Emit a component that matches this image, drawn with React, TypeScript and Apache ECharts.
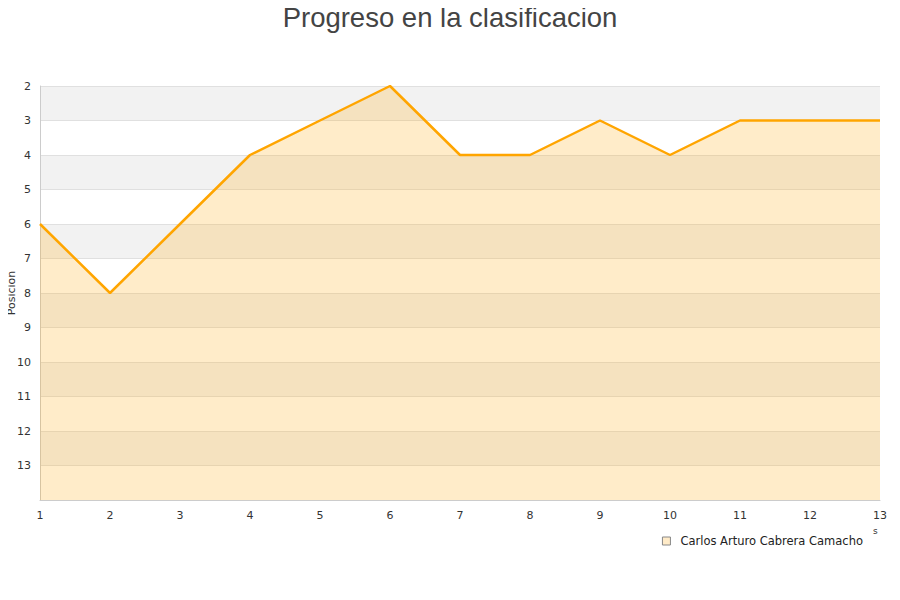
import React, { useEffect, useRef } from "react";
import * as echarts from "echarts";

const titleText = "Progreso en la clasificacion";
const jornadas = ["1", "2", "3", "4", "5", "6", "7", "8", "9", "10", "11", "12", "13"];
const posiciones = [6, 8, 6, 4, 3, 2, 4, 4, 3, 4, 3, 3, 3];
const seriesName = "Carlos Arturo Cabrera Camacho";
const yAxisName = "Posicion";

export default function App() {
  const ref = useRef<HTMLDivElement>(null);
  useEffect(() => {
    if (!ref.current) return;
    const chart = echarts.init(ref.current, null, { renderer: "svg" });
    chart.setOption({
      animation: false,
      backgroundColor: "#ffffff",
      textStyle: { fontFamily: "DejaVu Sans" },
      title: {
        text: titleText,
        left: "center",
        top: 2,
        padding: 0,
        textStyle: {
          fontFamily: "Liberation Sans",
          fontSize: 27.5,
          lineHeight: 30,
          fontWeight: "normal",
          color: "#444444",
        },
      },
      legend: {
        right: 32,
        top: 530,
        itemWidth: 8,
        itemHeight: 8,
        icon: "rect",
        textStyle: {
          fontFamily: "DejaVu Sans",
          fontSize: 11.5,
          color: "#222222",
          padding: [0, 0, 0, 5],
        },
        data: [
          {
            name: seriesName,
            itemStyle: { color: "#ffebc8", borderColor: "#888888", borderWidth: 1 },
          },
        ],
      },
      grid: { left: 40, right: 20, top: 86, bottom: 100, outerBoundsMode: "none", containLabel: false },
      xAxis: {
        type: "category",
        data: jornadas,
        boundaryGap: false,
        axisLine: { show: true, lineStyle: { color: "#cccccc" } },
        axisTick: { show: false },
        axisLabel: { color: "#333333", fontSize: 11, margin: 10, fontFamily: "DejaVu Sans" },
        splitLine: { show: false },
      },
      yAxis: {
        type: "value",
        inverse: true,
        min: 2,
        max: 14,
        interval: 1,
        axisLine: { show: true, lineStyle: { color: "#cccccc" } },
        axisTick: { show: false },
        axisLabel: {
          color: "#333333",
          fontSize: 11,
          margin: 9,
          fontFamily: "DejaVu Sans",
          formatter: (v: number) => (v === 14 ? "" : String(v)),
        },
        splitLine: { show: true, lineStyle: { color: "#e0e0e0" } },
        splitArea: { show: true, areaStyle: { color: ["#f2f2f2", "#ffffff"] } },
      },
      series: [
        {
          name: seriesName,
          type: "line",
          data: posiciones,
          symbol: "none",
          lineStyle: { color: "#ffa500", width: 2.5 },
          itemStyle: { color: "#ffa500" },
          areaStyle: { color: "rgba(255,173,22,0.23)", opacity: 1, origin: "end" },
        },
      ],
      graphic: [
        {
          type: "text",
          x: 11,
          y: 293,
          rotation: Math.PI / 2,
          style: {
            text: yAxisName,
            fontSize: 11,
            fill: "#333333",
            fontFamily: "DejaVu Sans",
            align: "center",
            verticalAlign: "middle",
          },
        },
        {
          type: "text",
          left: 873,
          top: 526,
          style: { text: "s", fontSize: 9, fill: "#333333", fontFamily: "DejaVu Sans" },
        },
      ],
    });
    return () => chart.dispose();
  }, []);
  return <div ref={ref} style={{ width: 900, height: 600, margin: -8 }} />;
}
